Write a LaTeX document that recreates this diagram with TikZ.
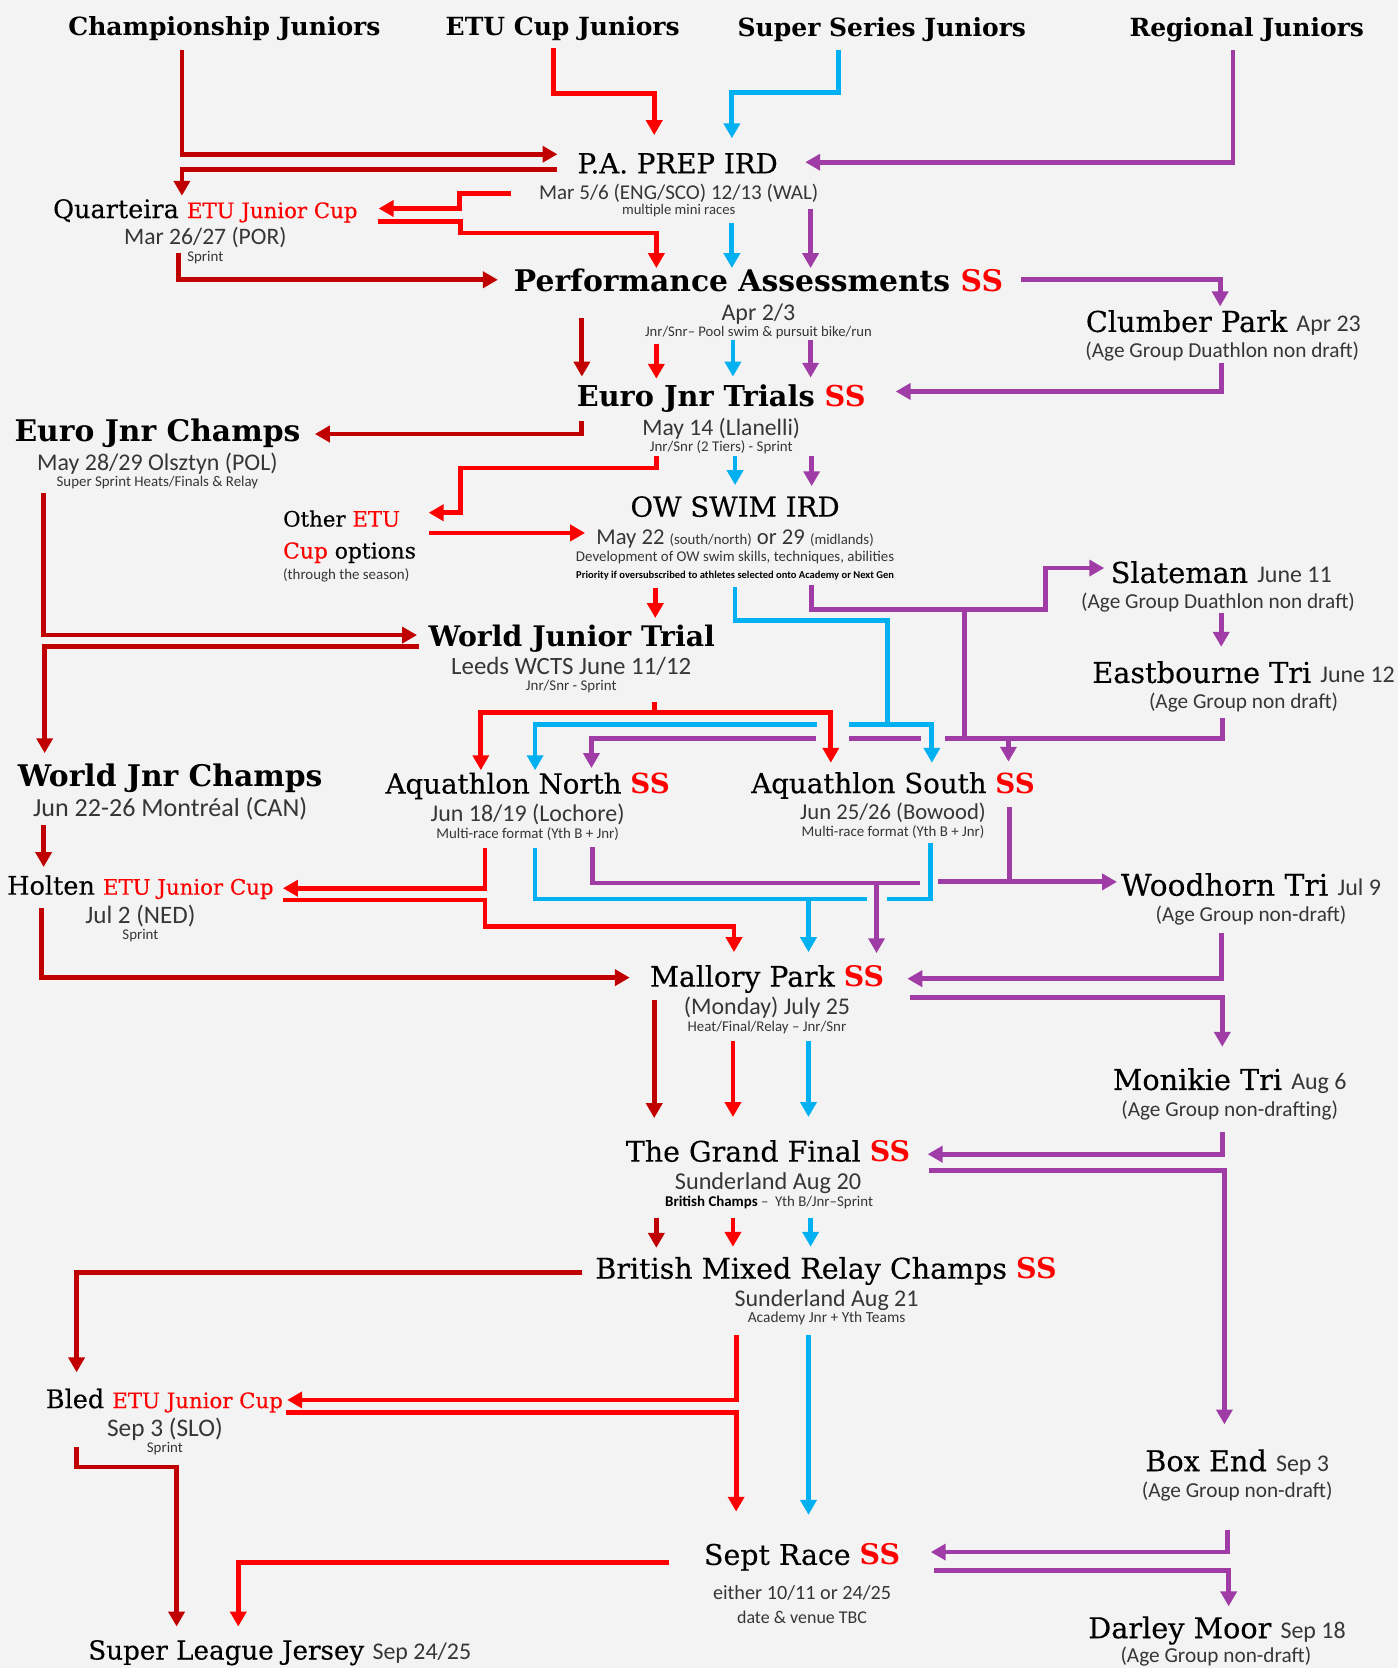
\documentclass[tikz,border=0pt]{standalone}
\usepackage{fontspec}
\usepackage{tikz}
\usetikzlibrary{arrows.meta}
\usepackage{xcolor}
\definecolor{ChampRed}{HTML}{C00000}
\definecolor{CupRed}{HTML}{FF0000}
\definecolor{SeriesBlue}{HTML}{00B0F0}
\definecolor{RegPurple}{HTML}{A03CA6}
\definecolor{Paper}{HTML}{F3F3F3}
\definecolor{Ink}{HTML}{363636}
\newfontfamily\slab{DejaVu Serif}
\newfontfamily\slabr[FakeBold=0.3]{DejaVu Serif}
\newfontfamily\calf{Carlito}
\newcommand{\fsz}[1]{\fontsize{#1}{#1}\selectfont}
\newcommand{\clr}{\textcolor{CupRed}}
\newcommand{\clss}{\clr{\slab\bfseries SS}}
\newcommand{\etucup}{{\fsz{20}\clr{ETU Junior Cup}}}
\newcommand{\when}[1]{{\calf\color{Ink}\fsz{22.5}#1}}

\begin{document}
\begin{tikzpicture}[x=1pt,y=-1pt,
    hd/.style={anchor=base,inner sep=0pt,font=\slab\bfseries\fsz{23.5}},
    tb/.style={anchor=base,inner sep=0pt,font=\slab\bfseries\fsz{27}},
    tr/.style={anchor=base,inner sep=0pt,font=\slabr\fsz{26}},
    dt/.style={anchor=base,inner sep=0pt,text=Ink,font=\calf\fsz{22.5}},
    ag/.style={anchor=base,inner sep=0pt,text=Ink,font=\calf\fsz{20}},
    sm/.style={anchor=base,inner sep=0pt,text=Ink,font=\calf\fsz{14}},
    champline/.style={draw=ChampRed,line width=4.5pt,-{Triangle[width=15pt,length=14pt]}},
    cupline/.style={draw=CupRed,line width=4.5pt,-{Triangle[width=15pt,length=14pt]}},
    seriesline/.style={draw=SeriesBlue,line width=4.5pt,-{Triangle[width=15pt,length=14pt]}},
    regline/.style={draw=RegPurple,line width=4.5pt,-{Triangle[width=15pt,length=14pt]}}]
    \fill[Paper] (0,0) rectangle (1314,1568);
    \useasboundingbox (0,0) rectangle (1314,1568);

    % pathways
    \node[hd] (champJ) at (211,33) {Championship Juniors};
    \node[hd] (etuJ) at (529,33) {ETU Cup Juniors};
    \node[hd] (ssJ) at (829,34) {Super Series Juniors};
    \node[hd] (regJ) at (1172,34) {Regional Juniors};

    % events, top to bottom
    \node[tr] (prep) at (637,163) {P.A. PREP IRD};
    \node[dt,font=\calf\fsz{19.8}] (prepD) at (638,187.5) {Mar 5/6 (ENG/SCO) 12/13 (WAL)};
    \node[sm,font=\calf\fsz{13.8}] (prepS) at (638,201.5) {multiple mini races};

    \node[tr,font=\slabr\fsz{24}] (quart) at (193,205) {Quarteira \etucup};
    \node[dt,font=\calf\fsz{22.2}] (quartD) at (193,230) {Mar 26/27 (POR)};
    \node[sm] (quartS) at (193,246) {Sprint};

    \node[tb,font=\slab\bfseries\fsz{28}] (perf) at (713,274) {Performance Assessments \clss};
    \node[dt] (perfD) at (713,301) {Apr 2/3};
    \node[sm,font=\calf\fsz{13.8}] (perfS) at (713,316.5) {Jnr/Snr– Pool swim \& pursuit bike/run};

    \node[tr,font=\slabr\fsz{27}] (clum) at (1150,312) {Clumber Park \when{Apr 23}};
    \node[ag] (clumD) at (1149,336) {(Age Group Duathlon non draft)};

    \node[tb] (ejt) at (678,382.5) {Euro Jnr Trials \clss};
    \node[dt,font=\calf\fsz{22.2}] (ejtD) at (678,409) {May 14 (Llanelli)};
    \node[sm] (ejtS) at (678,424.5) {Jnr/Snr (2 Tiers) - Sprint};

    \node[tb,font=\slab\bfseries\fsz{28}] (ejc) at (148,415) {Euro Jnr Champs};
    \node[dt] (ejcD) at (148,442) {May 28/29 Olsztyn (POL)};
    \node[sm] (ejcS) at (148,457.5) {Super Sprint Heats/Finals \& Relay};

    \node[anchor=base west,inner sep=0pt,font=\slabr\fsz{20}] (other) at (266,495) {Other \clr{ETU}};
    \node[anchor=base west,inner sep=0pt,font=\slabr\fsz{20.5}] (otherB) at (266,525) {\clr{Cup} options};
    \node[sm,anchor=base west] (otherS) at (266,545) {(through the season)};

    \node[tr] (ows) at (691,485.7) {OW SWIM IRD};
    \node[dt,font=\calf\fsz{21.3}] (owsD) at (691,512) {May 22 {\fsz{13.9}(south/north)} or 29 {\fsz{13.9}(midlands)}};
    \node[sm] (owsS) at (691,528) {Development of OW swim skills, techniques, abilities};
    \node[sm,text=black,font=\calf\bfseries\fsz{9.9}] (owsP) at (691,543.5) {Priority if oversubscribed to athletes selected onto Academy or Next Gen};

    \node[tr,font=\slabr\fsz{27}] (slate) at (1148,548) {Slateman \when{June 11}};
    \node[ag] (slateD) at (1145,571.6) {(Age Group Duathlon non draft)};

    \node[tr,font=\slabr\fsz{27}] (east) at (1169,642) {Eastbourne Tri \when{June 12}};
    \node[ag] (eastD) at (1169,666) {(Age Group non draft)};

    \node[tb,font=\slab\bfseries\fsz{26.6}] (wjt) at (537.5,608) {World Junior Trial};
    \node[dt,font=\calf\fsz{23.4}] (wjtD) at (537,634) {Leeds WCTS June 11/12};
    \node[sm] (wjtS) at (537,649.5) {Jnr/Snr - Sprint};

    \node[tb,font=\slab\bfseries\fsz{28}] (wjc) at (160,739) {World Jnr Champs};
    \node[dt,font=\calf\fsz{24.5}] (wjcD) at (160,767.6) {Jun 22-26 Montréal (CAN)};

    \node[tr] (aqn) at (496,746) {Aquathlon North \clss};
    \node[dt] (aqnD) at (496,772) {Jun 18/19 (Lochore)};
    \node[sm] (aqnS) at (496,788) {Multi-race format (Yth B + Jnr)};

    \node[tr] (aqs) at (839.5,745.6) {Aquathlon South \clss};
    \node[dt,font=\calf\fsz{21.3}] (aqsD) at (839.5,770.8) {Jun 25/26 (Bowood)};
    \node[sm] (aqsS) at (839.5,786.5) {Multi-race format (Yth B + Jnr)};

    \node[tr,font=\slabr\fsz{24}] (holt) at (132,841) {Holten \etucup};
    \node[dt,font=\calf\fsz{23.6}] (holtD) at (132,867.8) {Jul 2 (NED)};
    \node[sm] (holtS) at (132,883.6) {Sprint};

    \node[tr,font=\slabr\fsz{28}] (wood) at (1176,842) {Woodhorn Tri \when{Jul 9}};
    \node[ag] (woodD) at (1176,866) {(Age Group non-draft)};

    \node[tr,font=\slabr\fsz{26.6}] (mall) at (721,927.5) {Mallory Park \clss};
    \node[dt] (mallD) at (721,954) {(Monday) July 25};
    \node[sm] (mallS) at (721,969.7) {Heat/Final/Relay – Jnr/Snr};

    \node[tr,font=\slabr\fsz{27}] (moni) at (1156,1024.6) {Monikie Tri \when{Aug 6}};
    \node[ag] (moniD) at (1156,1049.7) {(Age Group non-drafting)};

    \node[tr,font=\slabr\fsz{26.7}] (gf) at (722,1092) {The Grand Final \clss};
    \node[dt,font=\calf\fsz{22.8}] (gfD) at (722,1118.6) {Sunderland Aug 20};
    \node[sm] (gfS) at (723,1134) {{\color{black}\bfseries British Champs} –\ \ Yth B/Jnr–Sprint};

    \node[tr,font=\slabr\fsz{26.8}] (bmr) at (776.5,1202) {British Mixed Relay Champs \clss};
    \node[dt] (bmrD) at (777,1228) {Sunderland Aug 21};
    \node[sm,font=\calf\fsz{14.5}] (bmrS) at (777,1243) {Academy Jnr + Yth Teams};

    \node[tr,font=\slabr\fsz{24}] (bled) at (154.5,1323.7) {Bled \etucup};
    \node[dt,font=\calf\fsz{23.8}] (bledD) at (155,1350.5) {Sep 3 (SLO)};
    \node[sm] (bledS) at (155,1365.5) {Sprint};

    \node[tr,font=\slabr\fsz{27}] (box) at (1163,1383) {Box End \when{Sep 3}};
    \node[ag] (boxD) at (1163,1408) {(Age Group non-draft)};

    \node[tr,font=\slabr\fsz{26.7}] (sept) at (754,1471) {Sept Race \clss};
    \node[dt,font=\calf\fsz{19}] (septD) at (754,1504) {either 10/11 or 24/25};
    \node[sm,font=\calf\fsz{16.9}] (septS) at (754,1525.7) {date \& venue TBC};

    \node[tr,font=\slabr\fsz{27}] (darl) at (1144,1540) {Darley Moor \when{Sep 18}};
    \node[ag] (darlD) at (1143,1563) {(Age Group non-draft)};

    \node[tr,font=\slabr\fsz{24.6}] (slj) at (263,1560) {Super League Jersey \when{Sep 24/25}};

    % championship juniors
    \draw[champline] (171,47) |- (524,145);
    \draw[champline] (524,159) -| (171,184);
    \draw[champline] (168,238) |- (468,263);
    \draw[champline] (547,299) -- (547,354);
    \draw[champline] (547,396) |- (296,408);
    \draw[champline] (41,463) |- (392,597);
    \draw[champline] (394,608) -| (42,708);
    \draw[champline] (41,776) -- (41,815);
    \draw[champline] (39,854) |- (592,919);
    \draw[champline] (615,940) -- (615,1051);
    \draw[champline] (617,1145) -- (617,1173);
    \draw[champline] (547,1196) -| (72,1290);
    \draw[champline] (72,1360) |- (166,1379) -- (166,1529);

    % etu cup juniors
    \draw[cupline] (520,45) |- (615,88) -- (615,127);
    \draw[cupline] (480,182) -| (432,196) -- (356,196);
    \draw[cupline] (355,208) -| (433,219) -| (617,252);
    \draw[cupline] (617,323) -- (617,356);
    \draw[cupline] (617,429) |- (433,440) |- (403,482);
    \draw[cupline] (403,501) -- (550,501);
    \draw[cupline] (616,553) -- (616,581);
    \draw[cupline] (615,660) |- (452,670) -- (452,724);
    \draw[cupline] (615,670) -| (781,717);
    \draw[cupline] (456,797) |- (266,835);
    \draw[cupline] (266,846) -| (456,871) -| (690,895);
    \draw[cupline] (689,979) -- (689,1050);
    \draw[cupline] (689,1145) -- (689,1172);
    \draw[cupline] (692,1255) |- (270,1316);
    \draw[cupline] (269,1328) -| (692,1421);
    \draw[cupline] (629,1469) -| (224,1529);

    % super series juniors
    \draw[seriesline] (788,47) |- (688,87) -- (688,130);
    \draw[seriesline] (688,210) -- (688,252);
    \draw[seriesline] (689,320) -- (689,354);
    \draw[seriesline] (691,429) -- (691,456);
    \draw[seriesline] (691,552) |- (834,583) -- (834,681) -| (876,717);
    \draw[seriesline,-] (834,681) -- (798,681);
    \draw[seriesline] (768,681) -| (503,724);
    \draw[seriesline,-] (503,797) |- (815,845);
    \draw[seriesline] (760,845) -- (760,895);
    \draw[seriesline,-] (875,792) |- (834,845);
    \draw[seriesline] (760,979) -- (760,1050);
    \draw[seriesline] (762,1145) -- (762,1172);
    \draw[seriesline] (760,1255) -- (760,1424);

    % regional juniors
    \draw[regline] (1159,47) |- (757,152.5);
    \draw[regline] (762,196) -- (762,252);
    \draw[regline] (960,263) -| (1147,288);
    \draw[regline] (762,320) -- (762,355);
    \draw[regline] (1148,341) |- (842,368);
    \draw[regline] (763,429) -- (763,457);
    \draw[regline] (763,550) |- (983,573) |- (1038,534);
    \draw[regline,-] (907,573) -- (907,694);
    \draw[regline] (1148,576) -- (1148,608);
    \draw[regline,-] (1149,675) |- (888,694);
    \draw[regline] (948,694) -- (948,716);
    \draw[regline,-] (866,694) -- (798,694);
    \draw[regline] (767,694) -| (556,722);
    \draw[regline,-] (557,796) |- (865,830);
    \draw[regline] (824,830) -- (824,896);
    \draw[regline] (949,759) |- (1050,829);
    \draw[regline,-] (949,829) -- (882,829);
    \draw[regline] (1148,877) |- (853,920);
    \draw[regline] (855,938) -| (1149,984);
    \draw[regline] (1149,1064) |- (872,1085);
    \draw[regline] (873,1100) -| (1151,1339);
    \draw[regline] (1154,1438) |- (875,1459);
    \draw[regline] (878,1476) -| (1155,1510);
\end{tikzpicture}
\end{document}
